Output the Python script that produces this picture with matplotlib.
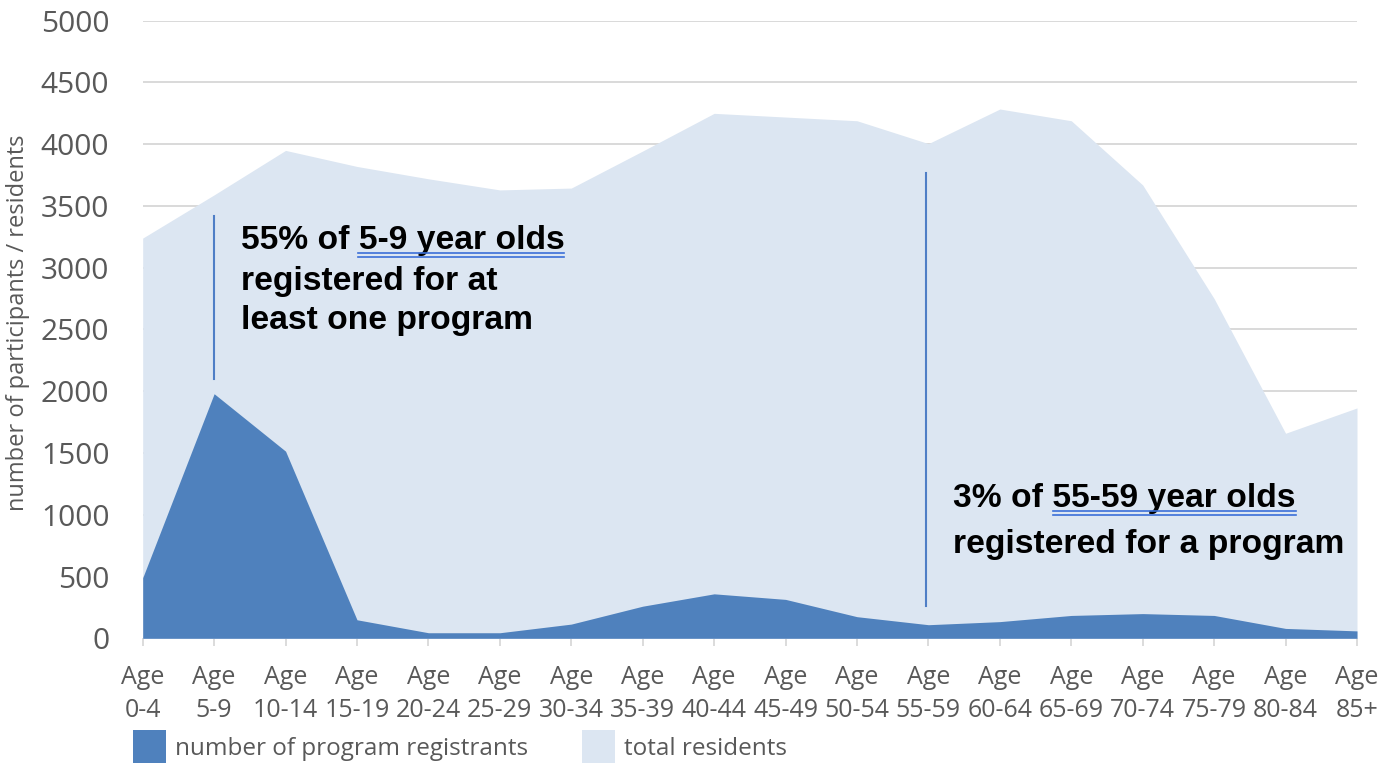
import matplotlib
matplotlib.use("Agg")
import matplotlib.pyplot as plt
import numpy as np
from matplotlib.lines import Line2D
from matplotlib.patches import Patch
from matplotlib.font_manager import FontProperties

# ---- data -------------------------------------------------------------
age_groups = ["0-4", "5-9", "10-14", "15-19", "20-24", "25-29", "30-34",
              "35-39", "40-44", "45-49", "50-54", "55-59", "60-64", "65-69",
              "70-74", "75-79", "80-84", "85+"]
total_residents = [3240, 3590, 3950, 3820, 3720, 3630, 3645, 3945, 4250,
                   4220, 4190, 4005, 4285, 4190, 3670, 2750, 1660, 1865]
registrants = [490, 1980, 1515, 150, 45, 45, 115, 260, 360,
               315, 175, 110, 135, 185, 200, 185, 80, 60]

series_names = ["number of program registrants", "total residents"]
y_label = "number of participants / residents"

# ---- styling ----------------------------------------------------------
DARK = "#4F81BD"
LIGHT = "#DCE6F2"
GRID = "#D9D9D9"
TXT = "#595959"
NOTE_LINE = "#4F7EC6"
UNDERLINE = "#3A6FD8"

W, H = 1396, 766
fig = plt.figure(figsize=(W / 100, H / 100), dpi=100)
ax = fig.add_axes([142.7 / W, 127.7 / H, 1214.3 / W, 617.6 / H])

x = np.arange(len(age_groups))
ax.fill_between(x, 0, total_residents, color=LIGHT, lw=0, zorder=1)
ax.fill_between(x, 0, registrants, color=DARK, lw=0, zorder=2)

ax.set_xlim(0, len(age_groups) - 1)
ax.set_ylim(0, 5000)
ax.set_yticks(np.arange(0, 5001, 500))
ax.set_xticks(x)
ax.set_xticklabels([f"Age\n{g}" for g in age_groups])

ax.grid(axis="y", color=GRID, lw=1.4, zorder=0)
ax.set_axisbelow(True)
for s in ax.spines.values():
    s.set_visible(False)

ax.tick_params(axis="y", length=0, pad=24, labelsize=21.5, labelcolor=TXT)
ax.tick_params(axis="x", length=6, width=1.3, color=GRID, pad=13,
               labelsize=18, labelcolor=TXT)
for lab in ax.get_xticklabels() + ax.get_yticklabels():
    lab.set_fontfamily("Open Sans")
for lab in ax.get_xticklabels():
    lab.set_linespacing(1.42)

ax.set_ylabel(y_label, fontfamily="Open Sans", fontsize=17, color=TXT)
ax.yaxis.set_label_coords(-0.0928, 0.511)

# ---- annotations ------------------------------------------------------
ax.plot([1, 1], [2100, 3420], color=NOTE_LINE, lw=1.5, zorder=3)
ax.plot([10.965, 10.965], [261, 3765], color=NOTE_LINE, lw=1.5, zorder=3)

note_font = FontProperties(family="Liberation Sans", weight="bold", size=24.2)

notes = [
    # (x, baseline y, text, underlined tail)
    (1.37, 3149, "55% of 5-9 year olds", "5-9 year olds"),
    (1.37, 2820, "registered for at", None),
    (1.37, 2502, "least one program", None),
    (11.35, 1061, "3% of 55-59 year olds", "55-59 year olds"),
    (11.35, 693, "registered for a program", None),
]
note_texts = []
for nx, ny, s, tail in notes:
    t = ax.text(nx, ny, s, fontproperties=note_font, color="black",
                ha="left", va="baseline", zorder=4)
    note_texts.append((t, nx, ny, tail))

# ---- legend -----------------------------------------------------------
handles = [Patch(facecolor=DARK, edgecolor="none", label=series_names[0]),
           Patch(facecolor=LIGHT, edgecolor="none", label=series_names[1])]
fig.legend(handles=handles, loc="lower left",
           bbox_to_anchor=(133 / W, 2.7 / H), ncol=2, frameon=False,
           prop=FontProperties(family="Open Sans", size=17.5),
           labelcolor=TXT, handlelength=1.36, handleheight=1.71,
           handletextpad=0.38, columnspacing=2.2, borderpad=0,
           borderaxespad=0)

# double underline beneath the highlighted part of the notes
fig.canvas.draw()
renderer = fig.canvas.get_renderer()
to_fig = fig.transFigure.inverted()
for t, nx, ny, tail in note_texts:
    if tail is None:
        continue
    bb = t.get_window_extent(renderer)
    tail_w, _, _ = renderer.get_text_width_height_descent(tail, note_font, ismath=False)
    bx, by = ax.transData.transform((nx, ny))
    x0, x1 = bb.x1 - tail_w, bb.x1
    for off in (4.0, 7.6):
        (fx0, fy), (fx1, _) = to_fig.transform([(x0, by - off), (x1, by - off)])
        fig.add_artist(Line2D([fx0, fx1], [fy, fy], color=UNDERLINE, lw=1.2,
                              transform=fig.transFigure, zorder=5))

fig.savefig("out.png", dpi=100)
